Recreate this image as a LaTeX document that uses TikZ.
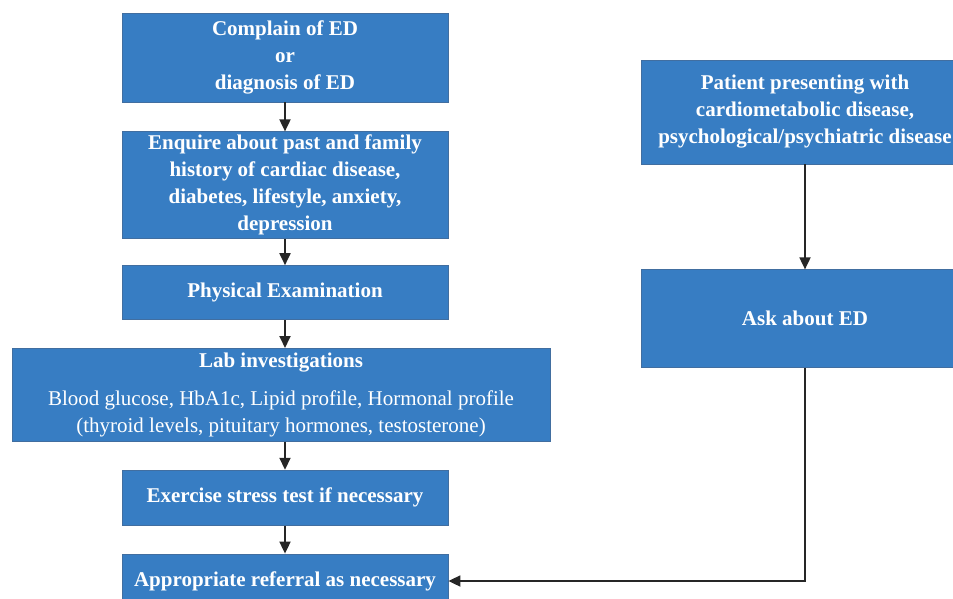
\documentclass[tikz,border=0pt]{standalone}
\usepackage{fontspec}
\setmainfont{Liberation Serif}
\usetikzlibrary{shapes,arrows.meta,positioning}
\definecolor{boxblue}{RGB}{55,125,195}
\definecolor{boxline}{RGB}{65,110,160}

\begin{document}
\begin{tikzpicture}[x=1bp,y=-1bp]
 \tikzset{main node/.style={rectangle, draw=boxline, fill=boxblue,
 		line width=0.8bp, text=white, align=center, inner sep=0pt,
 		font=\fontsize{21bp}{27bp}\selectfont\bfseries,
 		minimum width=326bp}, }
 \tikzset{side node/.style={main node, minimum width=328bp}, }
 \tikzset{linea/.style={-{Triangle[length=12bp,width=11bp]}, line width=1.8bp, black!85},}
 \useasboundingbox (0,0) rectangle (953,599);
 \node[main node, minimum height=89bp] (1) at (285,57.5) {Complain of ED\\or\\diagnosis of ED};
 \node[main node, minimum height=107bp] (2)[below=29bp of 1] {Enquire about past and family\\history of cardiac disease,\\diabetes, lifestyle, anxiety,\\depression};
 \node[main node, minimum height=54bp] (3)[below=26bp of 2] {Physical Examination};
 \node[main node, minimum width=538bp, minimum height=93bp, xshift=-4bp] (4)[below=28bp of 3]
 	{Lab investigations\\[11bp]
 	\mdseries Blood glucose, HbA1c, Lipid profile, Hormonal profile\\
 	\mdseries (thyroid levels, pituitary hormones, testosterone)};
 \node[main node, minimum height=55bp, xshift=4bp] (5)[below=28bp of 4] {Exercise stress test if necessary};
 \node[main node, minimum height=54bp] (6)[below=28bp of 5] {Appropriate referral as necessary};

 \node[side node, minimum height=104bp] (7) at (805,112) {Patient presenting with\\cardiometabolic disease,\\psychological/psychiatric disease};
 \node[side node, minimum height=98bp] (8)[below=105bp of 7] {Ask about ED};

 \foreach \x /\y in{1/2,2/3,3/4,4/5,5/6}
 \draw[linea] (1.south |- \x.south) -- (1.south |- \y.north);
 \draw[linea] (7) -- (8);
 \draw[linea] (8.south) |- (6.east);
% %%
\end{tikzpicture}
\end{document}
